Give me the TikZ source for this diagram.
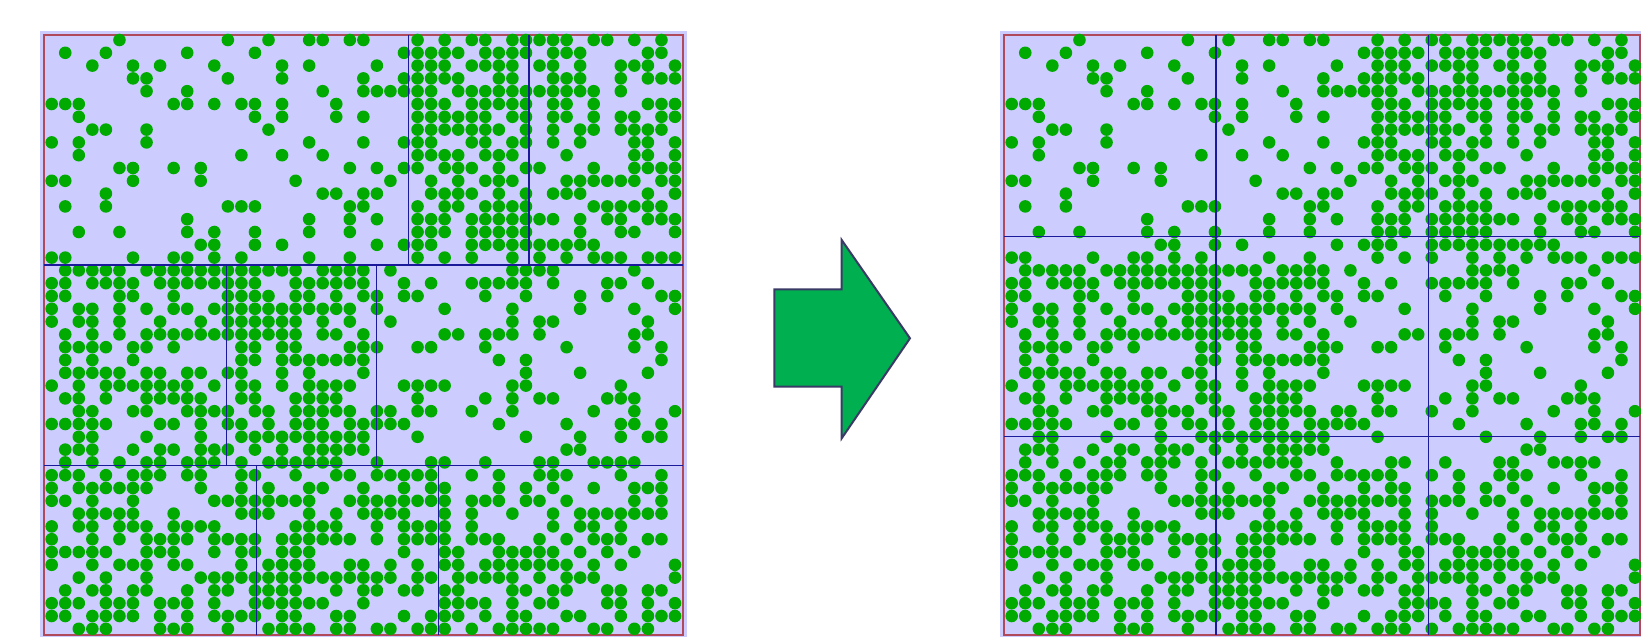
\documentclass[tikz,border=0pt]{standalone}
\definecolor{lav}{HTML}{CCCCFF}
\definecolor{dotgreen}{HTML}{00AA00}
\definecolor{framered}{HTML}{B04A5A}
\definecolor{partblue}{HTML}{1A1A9A}
\definecolor{arrowfill}{HTML}{00B050}
\definecolor{arrowline}{HTML}{3A3A66}
\tikzset{
  panelbg/.style={fill=lav, draw=none},
  panelframe/.style={draw=framered, line width=1.2pt},
  partline/.style={draw=partblue, line width=1.1pt},
  dotstyle/.style={fill=dotgreen},
  bigarrow/.style={fill=arrowfill, draw=arrowline, line width=2pt, line join=miter}
}
% same pseudo-random dot field for both panels (seed reset each time)
\newcommand{\mydotfield}[1]{%
  \pgfmathsetseed{2718}%
  \foreach \ca/\cb/\ra/\rb/\dens in {0/26/0/17/0.22, 27/35/0/17/0.76, 36/46/0/17/0.6,
      0/12/18/33/0.56, 13/23/18/33/0.68, 24/46/18/33/0.29,
      0/14/34/46/0.56, 15/28/34/46/0.68, 29/46/34/46/0.5}{%
    \foreach \i in {\ca,...,\cb}{%
      \foreach \j in {\ra,...,\rb}{%
        \pgfmathsetmacro{\rv}{rnd}%
        \ifdim\rv pt<\dens pt
          \fill[dotstyle] ({#1+7.7+13.55*\i},{40+12.8*\j}) circle (6.3);
        \fi
      }}}}
\begin{document}
\begin{tikzpicture}[x=1pt,y=-1pt]
\useasboundingbox (0,0) rectangle (1641,637);
% ---------- left panel ----------
\fill[panelbg] (40,31) rectangle (687,637);
\draw[panelframe] (44,35) rectangle (683,635);
\mydotfield{44}
\draw[partline] (408.3,35) -- (408.3,265);
\draw[partline] (529,35) -- (529,265);
\draw[partline] (44,265) -- (683,265);
\draw[partline] (226.7,265) -- (226.7,465.5);
\draw[partline] (376.8,265) -- (376.8,465.5);
\draw[partline] (44,465.5) -- (683,465.5);
\draw[partline] (256.7,465.5) -- (256.7,635);
\draw[partline] (438.5,465.5) -- (438.5,635);
% ---------- arrow ----------
\draw[bigarrow] (774.3,289.3) -- (841.7,289.3) -- (841.7,240) -- (910,338.3)
  -- (841.7,438.3) -- (841.7,386.7) -- (774.3,386.7) -- cycle;
% ---------- right panel ----------
\fill[panelbg] (1000,31) rectangle (1641,637);
\draw[panelframe] (1004,35) rectangle (1640,635);
\mydotfield{1004}
\draw[partline] (1216,35) -- (1216,635);
\draw[partline] (1428.5,35) -- (1428.5,635);
\draw[partline] (1004,236.5) -- (1640,236.5);
\draw[partline] (1004,436.7) -- (1640,436.7);
\end{tikzpicture}
\end{document}
